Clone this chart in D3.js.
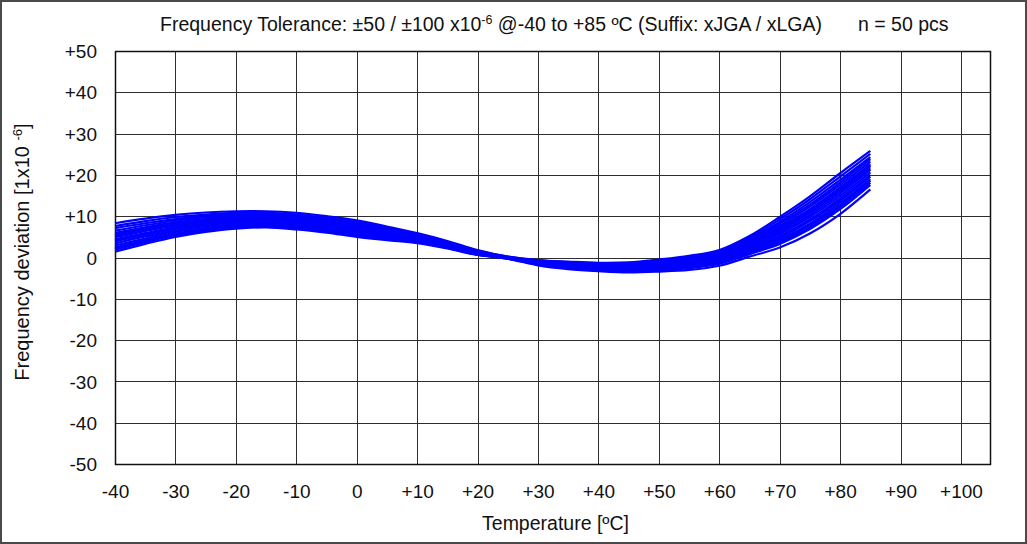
<!DOCTYPE html>
<html>
<head>
<meta charset="utf-8">
<script src="https://cdn.jsdelivr.net/npm/d3@7"></script>
<style>
html,body{margin:0;padding:0;background:#fff;}
svg{display:block;}
text{font-family:"Liberation Sans",Arial,sans-serif;fill:#111;}
</style>
</head>
<body>
<svg id="chart" width="1027" height="544"></svg>
<script>
// ---- data ----
const temps = [-40,-35,-30,-25,-20,-15,-10,-5,0,5,10,15,20,25,30,35,40,45,50,55,60,65,70,75,80,85];
const c1  = [8.3,9.4,10.3,10.9,11.2,11.2,10.8,10.0,9.0,7.5,5.9,4.0,1.8,0.2,-0.7,-1.1,-1.5,-1.4,-0.7,0.1,1.5,4.8,9.2,14.1,19.6,25.1];
const c2  = [7.6,8.8,9.8,10.4,10.8,10.8,10.4,9.6,8.6,7.2,5.7,3.8,1.7,0.2,-0.6,-1.0,-1.3,-1.2,-0.5,0.4,1.8,5.2,9.8,14.8,20.4,25.8];
const c3  = [7.1,8.3,9.3,10.1,10.4,10.5,10.1,9.3,8.3,6.9,5.5,3.7,1.6,0.1,-0.9,-1.4,-1.7,-1.7,-1.1,-0.3,1.0,4.1,8.2,12.8,18.2,23.8];
const c4  = [6.5,7.8,8.9,9.7,10.1,10.2,9.8,9.0,8.0,6.6,5.3,3.5,1.5,0.1,-1.0,-1.6,-2.0,-2.0,-1.5,-0.8,0.5,3.5,7.3,11.7,17.0,22.6];
const c5  = [6.0,7.3,8.5,9.3,9.8,9.9,9.4,8.6,7.6,6.4,5.1,3.4,1.4,0.1,-0.8,-1.3,-1.6,-1.6,-1.0,-0.1,1.2,4.4,8.6,13.4,18.8,24.3];
const c6  = [5.4,6.8,8.1,8.9,9.4,9.6,9.1,8.3,7.3,6.1,4.9,3.2,1.3,0.0,-1.2,-1.8,-2.2,-2.3,-1.8,-1.1,0.1,3.0,6.5,10.8,16.0,21.6];
const c7  = [4.9,6.4,7.7,8.6,9.1,9.3,8.8,8.0,7.0,5.9,4.7,3.1,1.2,0.0,-1.0,-1.5,-1.9,-1.9,-1.3,-0.6,0.7,3.8,7.7,12.3,17.6,23.2];
const c8  = [4.4,5.9,7.3,8.2,8.8,9.0,8.5,7.7,6.7,5.6,4.5,3.0,1.1,-0.1,-1.3,-2.0,-2.4,-2.5,-2.1,-1.5,-0.3,2.4,5.7,9.8,14.9,20.6];
const c9  = [3.9,5.5,6.9,7.9,8.5,8.7,8.2,7.4,6.4,5.4,4.4,2.9,1.0,-0.1,-1.1,-1.7,-2.1,-2.2,-1.7,-1.0,0.3,3.2,6.8,11.2,16.4,22.1];
const c10 = [3.4,5.1,6.5,7.6,8.2,8.4,8.0,7.2,6.2,5.2,4.2,2.7,1.0,-0.1,-1.5,-2.2,-2.6,-2.8,-2.4,-1.9,-0.8,1.9,4.8,8.8,13.8,19.6];
const c11 = [2.9,4.6,6.2,7.2,7.9,8.2,7.7,6.9,5.9,4.9,4.0,2.6,0.9,-0.1,-1.3,-1.9,-2.3,-2.4,-2.0,-1.3,-0.1,2.7,6.1,10.3,15.5,21.2];
const c12 = [2.4,4.2,5.8,6.9,7.6,7.9,7.4,6.6,5.6,4.7,3.9,2.5,0.8,-0.2,-1.6,-2.4,-2.9,-3.1,-2.8,-2.3,-1.2,1.3,4.0,7.8,12.7,18.6];
const c13 = [1.9,3.7,5.4,6.5,7.3,7.6,7.1,6.3,5.3,4.4,3.7,2.3,0.7,-0.3,-1.7,-2.6,-3.1,-3.3,-3.1,-2.6,-1.5,0.8,3.3,6.9,11.7,17.6];
const c14 = [1.4,3.3,5.0,6.2,7.0,7.3,6.8,6.0,5.0,4.2,3.5,2.2,0.6,-0.3,-1.9,-2.8,-3.3,-3.6,-3.4,-3.0,-2.0,0.2,2.4,5.8,10.5,16.5];
const c15 = [5.7,7.1,8.3,9.1,9.6,9.7,9.3,8.5,7.5,6.2,5.0,3.3,1.3,0.0,-1.4,-2.1,-2.5,-2.7,-2.3,-1.7,-0.6,2.1,5.2,9.2,14.3,20.0];
const c16 = [4.2,5.7,7.1,8.1,8.7,8.9,8.4,7.6,6.6,5.5,4.5,2.9,1.1,-0.1,-1.6,-2.3,-2.8,-3.0,-2.6,-2.1,-1.0,1.6,4.4,8.2,13.2,19.0];
const c17 = [2.2,4.0,5.6,6.7,7.5,7.7,7.2,6.4,5.4,4.6,3.8,2.4,0.7,-0.2,-1.7,-2.5,-3.0,-3.2,-2.9,-2.4,-1.4,1.1,3.7,7.3,12.2,18.1];
const c18 = [5.1,6.6,7.9,8.7,9.3,9.4,9.0,8.2,7.2,6.0,4.8,3.2,1.3,0.0,-1.1,-1.7,-2.1,-2.1,-1.6,-0.9,0.4,3.3,7.0,11.4,16.6,22.3];
const curves = [c1,c2,c3,c4,c5,c6,c7,c8,c9,c10,c11,c12,c13,c14,c15,c16,c17,c18];
const xTicks = [-40,-30,-20,-10,0,10,20,30,40,50,60,70,80,90,100];
const yTicks = [-50,-40,-30,-20,-10,0,10,20,30,40,50];
const xTickLabels = ["-40","-30","-20","-10","0","+10","+20","+30","+40","+50","+60","+70","+80","+90","+100"];
const yTickLabels = ["-50","-40","-30","-20","-10","0","+10","+20","+30","+40","+50"];

// ---- layout ----
const svg = d3.select("#chart");
const L = 115, R = 990, T = 51, B = 464;
const x = d3.scaleLinear().domain([-40, 104.8]).range([L, R]);
const y = d3.scaleLinear().domain([-50, 50]).range([B, T]);

// outer frame
svg.append("rect").attr("x",1).attr("y",1).attr("width",1025).attr("height",542)
  .attr("fill","#fff").attr("stroke","#4a4a4a").attr("stroke-width",2);

// grid
const grid = svg.append("g").attr("stroke","#2e2e2e").attr("stroke-width",1).attr("shape-rendering","crispEdges");
xTicks.forEach(v => {
  const px = Math.round(x(v)) + 0.5;
  grid.append("line").attr("x1",px).attr("x2",px).attr("y1",T).attr("y2",B);
});
yTicks.forEach(v => {
  const py = Math.round(y(v)) + 0.5;
  grid.append("line").attr("x1",L).attr("x2",R).attr("y1",py).attr("y2",py);
});
svg.append("rect").attr("x",L+0.5).attr("y",T+0.5).attr("width",R-L).attr("height",B-T)
  .attr("fill","none").attr("stroke","#111").attr("stroke-width",1.5);

// curves
const line = d3.line()
  .x((d,i) => x(temps[i]))
  .y(d => y(d))
  .curve(d3.curveCatmullRom.alpha(0.5));
svg.append("g").selectAll("path").data(curves).join("path")
  .attr("d", line)
  .attr("fill","none")
  .attr("stroke","#0000ff")
  .attr("stroke-width",2.2);

// axes (labels only)
const xAxis = d3.axisBottom(x).tickValues(xTicks).tickFormat((d,i)=>xTickLabels[i]).tickSize(0).tickPadding(0);
const gx = svg.append("g").attr("transform",`translate(0,${B})`).call(xAxis);
gx.select(".domain").remove();
gx.selectAll("text").attr("y",34).attr("dy",0).style("font-size","19px").style("font-family","Liberation Sans, Arial, sans-serif").attr("fill","#111");

const yAxis = d3.axisLeft(y).tickValues(yTicks).tickFormat((d,i)=>yTickLabels[i]).tickSize(0).tickPadding(0);
const gy = svg.append("g").attr("transform",`translate(${L},0)`).call(yAxis);
gy.select(".domain").remove();
gy.selectAll("text").attr("x",-18).attr("dy","0.35em").style("font-size","19px").style("font-family","Liberation Sans, Arial, sans-serif").attr("fill","#111");

// title
const title = svg.append("text").attr("x",160).attr("y",31).style("font-size","19.5px");
title.append("tspan").text("Frequency Tolerance: ±50 / ±100 x10");
title.append("tspan").attr("dy",-7).style("font-size","12.5px").text("-6");
title.append("tspan").attr("dy",7).text(" @-40 to +85 ºC (Suffix: xJGA / xLGA)");
svg.append("text").attr("x",858).attr("y",31).style("font-size","19.5px").text("n = 50 pcs");

// axis titles
svg.append("text").attr("x",555.5).attr("y",530).attr("text-anchor","middle").style("font-size","19.5px").text("Temperature [ºC]");
const yt = svg.append("text").attr("transform","translate(29,252) rotate(-90)").attr("text-anchor","middle").style("font-size","20px");
yt.append("tspan").text("Frequency deviation [1x10 ");
yt.append("tspan").attr("dy",-7).style("font-size","13px").text("-6");
yt.append("tspan").attr("dy",7).text("]");
</script>
</body>
</html>
